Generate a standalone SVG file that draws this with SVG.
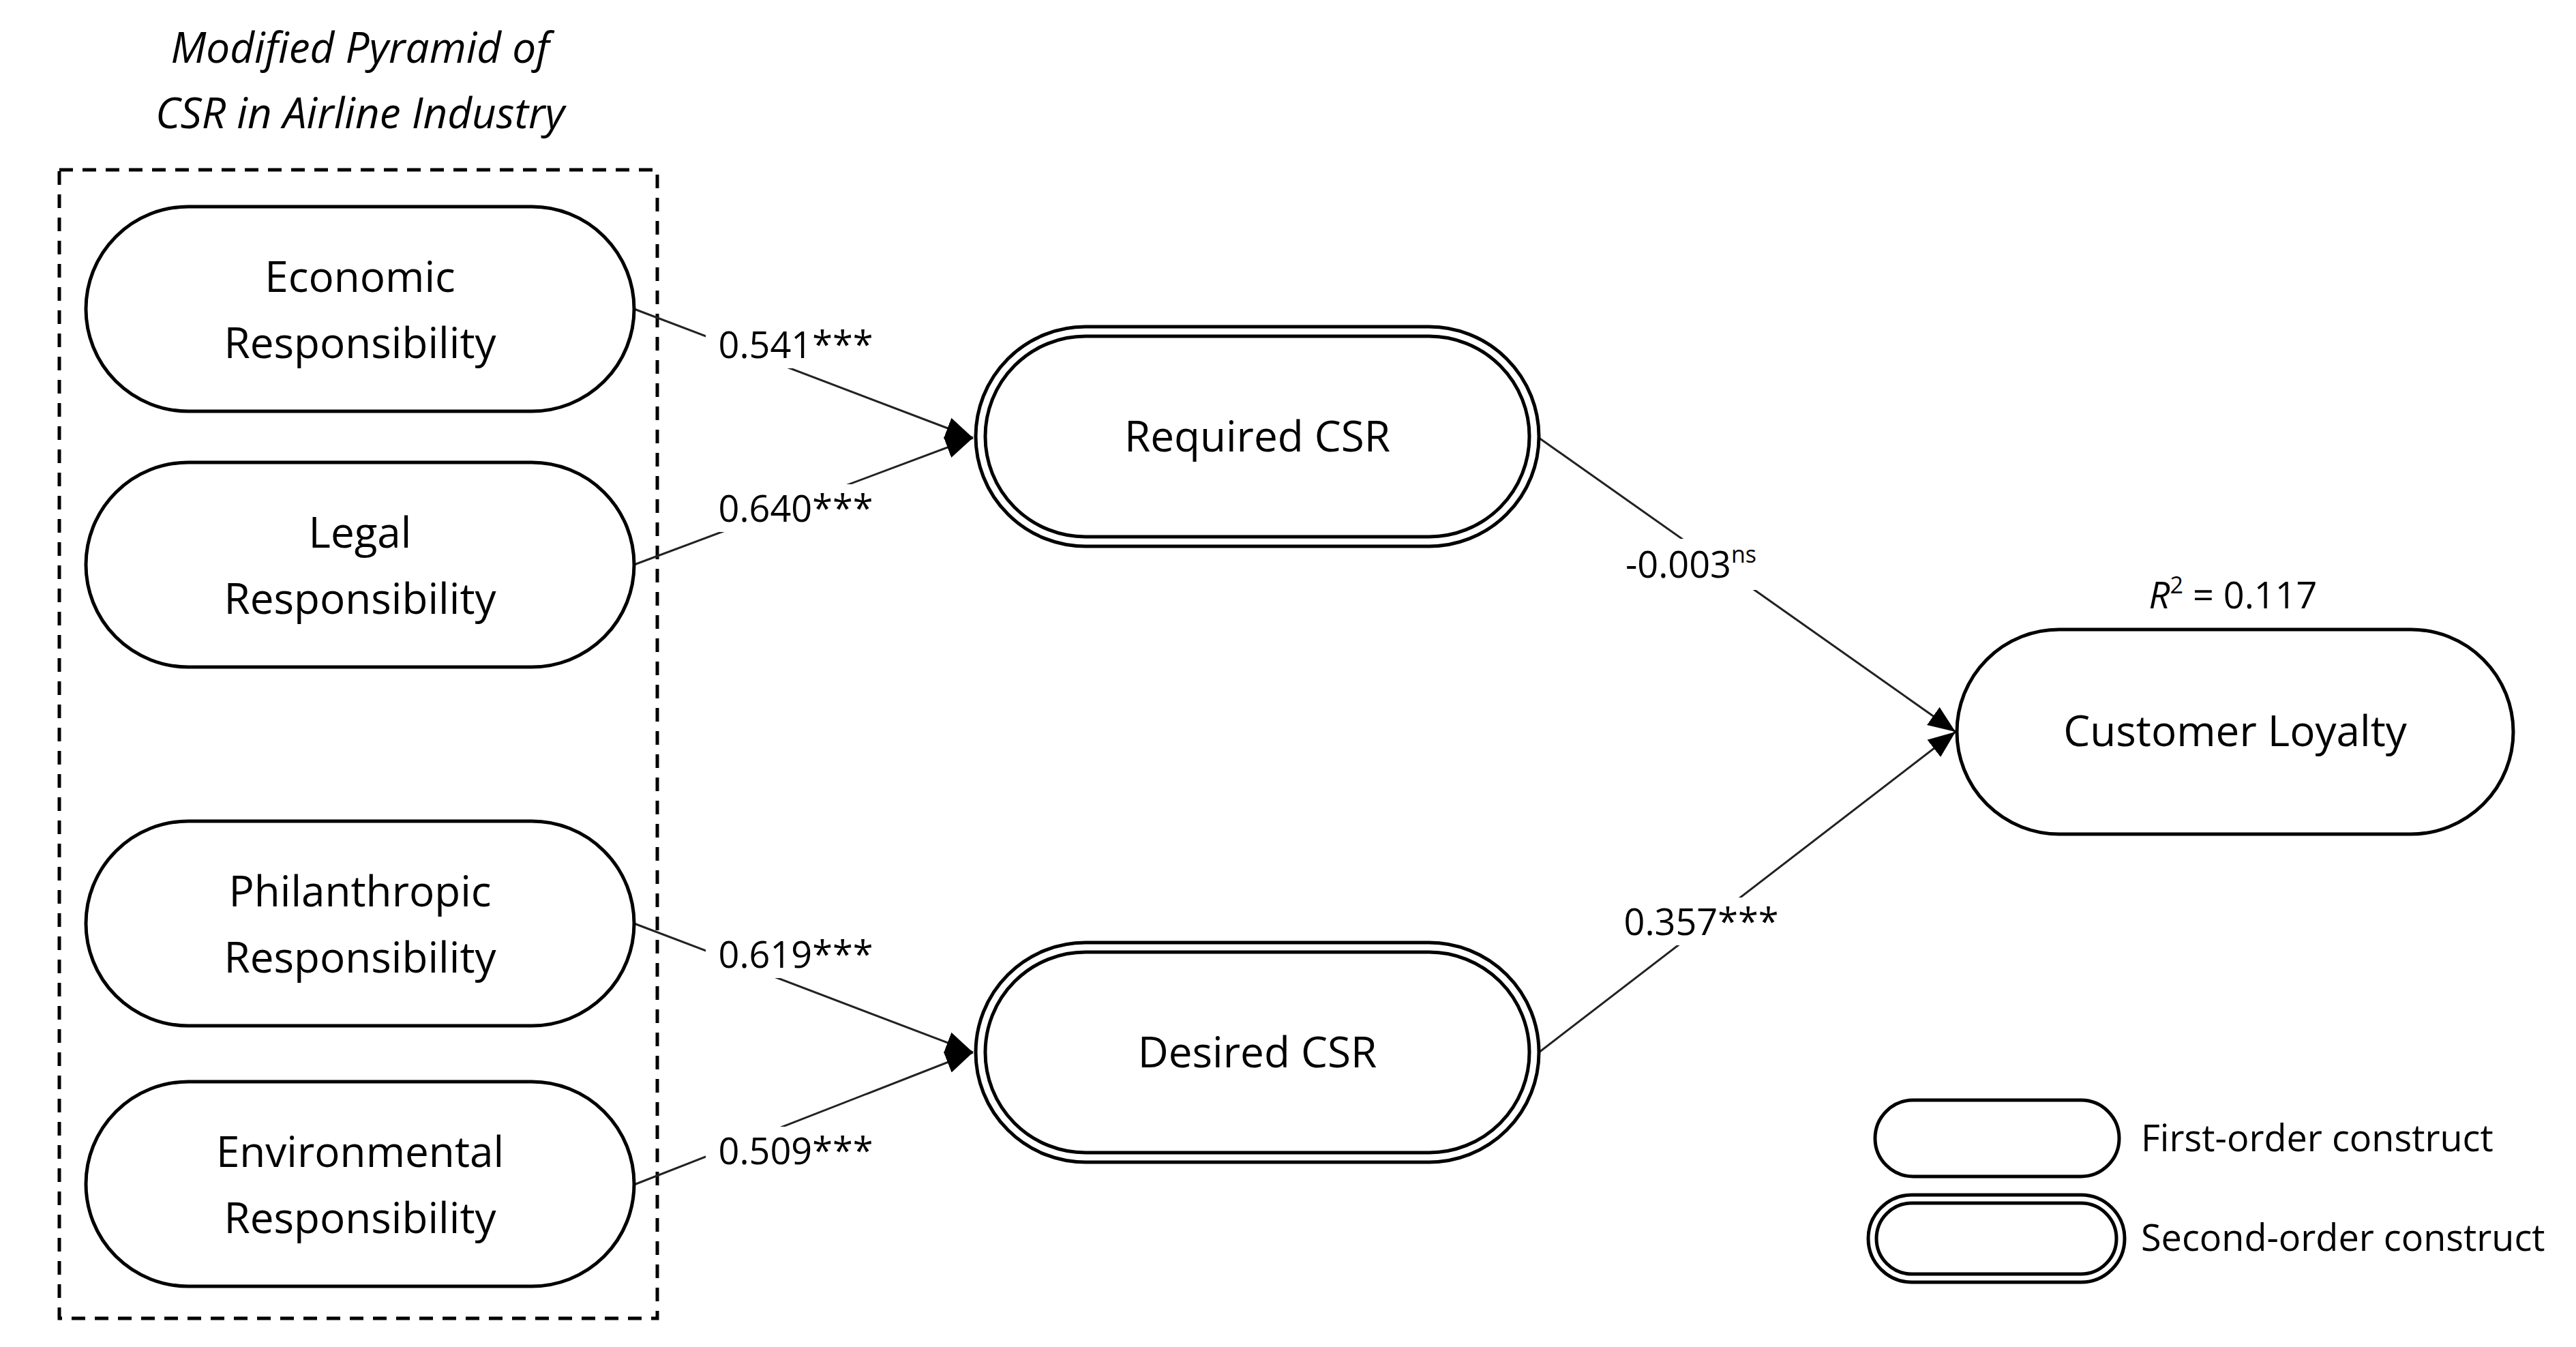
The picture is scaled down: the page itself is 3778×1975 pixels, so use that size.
<svg xmlns="http://www.w3.org/2000/svg" width="3778" height="1975" viewBox="0 0 3778 1975">
<style>
.n{fill:#fff;stroke:#000;stroke-width:5}
.t{font-family:"Open Sans","Liberation Sans",sans-serif;font-size:62px;text-anchor:middle;fill:#000}
.l{font-family:"Open Sans","Liberation Sans",sans-serif;font-size:54px;text-anchor:middle;fill:#000}
.e{stroke:#222;stroke-width:3;fill:none;marker-end:url(#a)}
.bg{fill:#fff}
</style>
<defs><marker id="a" markerWidth="10" markerHeight="10" refX="9" refY="5" orient="auto" markerUnits="userSpaceOnUse" viewBox="0 0 10 10"><path d="M0,0L10,5L0,10z" fill="#000"/></marker>
<marker id="b" viewBox="0 0 10 10" refX="10" refY="5" markerWidth="40" markerHeight="40" orient="auto" markerUnits="userSpaceOnUse"><path d="M0,1L10,5L0,9z" fill="#000"/></marker></defs>
<rect width="3778" height="1975" fill="#fff"/>
<g id="title"><text class="t" x="528" y="92" font-style="italic">Modified Pyramid of</text><text class="t" x="528" y="188" font-style="italic">CSR in Airline Industry</text></g>
<rect id="group" x="87" y="249" width="877" height="1684" fill="none" stroke="#000" stroke-width="5" stroke-dasharray="20,14"/>
<g id="edges">
<line x1="930" y1="453" x2="1427" y2="642" stroke="#222" stroke-width="3" marker-end="url(#b)"/>
<line x1="930" y1="828" x2="1427" y2="642" stroke="#222" stroke-width="3" marker-end="url(#b)"/>
<line x1="930" y1="1354" x2="1427" y2="1543" stroke="#222" stroke-width="3" marker-end="url(#b)"/>
<line x1="930" y1="1737" x2="1427" y2="1543" stroke="#222" stroke-width="3" marker-end="url(#b)"/>
<line x1="2257" y1="642" x2="2868" y2="1073" stroke="#222" stroke-width="3" marker-end="url(#b)"/>
<line x1="2257" y1="1543" x2="2868" y2="1073" stroke="#222" stroke-width="3" marker-end="url(#b)"/>
<rect class="bg" x="1035" y="470" width="265" height="70"/><text class="l" x="1167" y="525">0.541***</text>
<rect class="bg" x="1035" y="710" width="265" height="70"/><text class="l" x="1167" y="765">0.640***</text>
<rect class="bg" x="1035" y="1364" width="265" height="70"/><text class="l" x="1167" y="1419">0.619***</text>
<rect class="bg" x="1035" y="1652" width="265" height="70"/><text class="l" x="1167" y="1707">0.509***</text>
<rect class="bg" x="2365" y="790" width="265" height="75"/><text class="l" x="2480" y="847">-0.003<tspan font-size="34" dy="-22">ns</tspan></text>
<rect class="bg" x="2365" y="1316" width="265" height="70"/><text class="l" x="2495" y="1371">0.357***</text>
</g>
<g id="economic"><rect class="n" x="126" y="303" width="804" height="300" rx="150"/><text class="t" x="528" y="428">Economic</text><text class="t" x="528" y="525">Responsibility</text></g>
<g id="legal"><rect class="n" x="126" y="678" width="804" height="300" rx="150"/><text class="t" x="528" y="803">Legal</text><text class="t" x="528" y="900">Responsibility</text></g>
<g id="philanthropic"><rect class="n" x="126" y="1204" width="804" height="300" rx="150"/><text class="t" x="528" y="1329">Philanthropic</text><text class="t" x="528" y="1426">Responsibility</text></g>
<g id="environmental"><rect class="n" x="126" y="1586" width="804" height="300" rx="150"/><text class="t" x="528" y="1711">Environmental</text><text class="t" x="528" y="1808">Responsibility</text></g>
<g id="required"><rect class="n" x="1431" y="479" width="826" height="322" rx="161"/><rect class="n" x="1445" y="493" width="798" height="294" rx="147"/><text class="t" x="1844" y="662">Required CSR</text></g>
<g id="desired"><rect class="n" x="1431" y="1382" width="826" height="322" rx="161"/><rect class="n" x="1445" y="1396" width="798" height="294" rx="147"/><text class="t" x="1844" y="1565">Desired CSR</text></g>
<g id="loyalty"><rect class="n" x="2870" y="923" width="816" height="300" rx="150"/><text class="t" x="3278" y="1094">Customer Loyalty</text><text class="l" x="3275" y="892"><tspan font-style="italic">R</tspan><tspan font-size="34" dy="-22">2</tspan><tspan dy="22"> = 0.117</tspan></text></g>
<g id="legend">
<rect class="n" x="2750" y="1613" width="358" height="112" rx="56"/>
<text class="l" x="3140" y="1688" text-anchor="start" style="text-anchor:start">First-order construct</text>
<rect class="n" x="2740" y="1752" width="376" height="128" rx="64"/><rect class="n" x="2752" y="1764" width="352" height="104" rx="52"/>
<text class="l" x="3140" y="1834" style="text-anchor:start">Second-order construct</text>
</g>
</svg>
